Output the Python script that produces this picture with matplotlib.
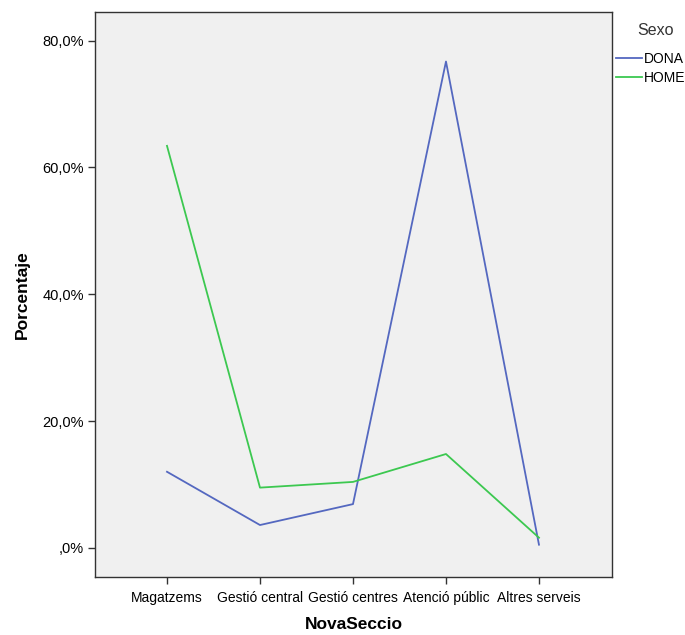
import numpy as np
import matplotlib
matplotlib.use('Agg')
import matplotlib.pyplot as plt
from matplotlib.ticker import FuncFormatter

categories = ['Magatzems', 'Gestió central', 'Gestió centres', 'Atenció públic', 'Altres serveis']
dona = [12.0, 3.6, 6.9, 76.7, 0.5]
home = [63.4, 9.5, 10.4, 14.8, 1.6]
yticks = [0, 20, 40, 60, 80]

plt.rcParams['font.family'] = ['Liberation Sans', 'DejaVu Sans']

fig = plt.figure(figsize=(6.85, 6.35), dpi=100)
ax = fig.add_axes([0.1387, 0.0913, 0.7547, 0.8897])
ax.set_facecolor('#F0F0F0')

x = np.arange(len(categories))
l1, = ax.plot(x, dona, color='#5468C0', lw=1.3)
l2, = ax.plot(x, home, color='#3CC850', lw=1.3)

ax.set_xlim(-0.774, 4.785)
ax.set_ylim(-4.6, 84.5)
ax.set_xticks(x)
ax.set_xticklabels(categories, fontsize=10)
ax.set_yticks(yticks)
ax.yaxis.set_major_formatter(FuncFormatter(lambda v, p: ',0%' if v == 0 else '{:.1f}%'.format(v).replace('.', ',')))
ax.tick_params(axis='y', labelsize=10.5, length=5, width=1, color='#333333', pad=3)
ax.tick_params(axis='x', length=5, width=1, color='#333333', pad=5)
for s in ax.spines.values():
    s.set_color('#333333')
    s.set_linewidth(1)

ax.set_xlabel('NovaSeccio', fontsize=12.5, fontweight='bold', labelpad=9)
ax.set_ylabel('Porcentaje', fontsize=12.5, fontweight='bold', labelpad=9)

fig.text(0.957, 0.952, 'Sexo', fontsize=11.5, ha='center', va='center', color='#333333')
leg = fig.legend([l1, l2], ['DONA', 'HOME'], loc='upper left', bbox_to_anchor=(0.895, 0.923),
                 frameon=False, fontsize=10, handlelength=1.9, handletextpad=0.1, labelspacing=0.38,
                 borderpad=0.2, borderaxespad=0.0)

fig.savefig('out.png', dpi=100)
